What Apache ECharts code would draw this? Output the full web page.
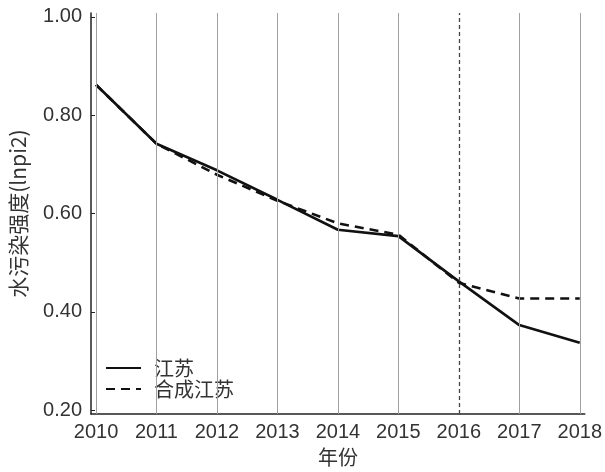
<!DOCTYPE html>
<html>
<head>
<meta charset="utf-8">
<script src="https://cdn.jsdelivr.net/npm/echarts@6/dist/echarts.min.js"></script>
<style>
  html, body { margin: 0; padding: 0; background: #fff; }
  #chart { width: 605px; height: 472px; }
</style>
</head>
<body>
<div id="chart"></div>
<script>
// Years on the horizontal axis
const years = [2010, 2011, 2012, 2013, 2014, 2015, 2016, 2017, 2018];
// Water pollution intensity, Jiangsu (actual)
const jiangsu = [0.862, 0.742, 0.688, 0.628, 0.567, 0.554, 0.462, 0.373, 0.337];
// Water pollution intensity, synthetic Jiangsu
const syntheticJiangsu = [0.862, 0.742, 0.679, 0.626, 0.580, 0.557, 0.459, 0.427, 0.427];
// Y-axis tick labels
const yTicks = [0.2, 0.4, 0.6, 0.8, 1.0];
// Year where the policy starts (dashed reference line)
const policyYear = 2016;

const seriesNames = ['江苏', '合成江苏'];
const fontLatin = '"Liberation Sans", "Noto Sans CJK SC", sans-serif';
const fontCjk = '"Noto Sans CJK SC", "Liberation Sans", sans-serif';
const textColor = '#333';

const chart = echarts.init(document.getElementById('chart'), null, { renderer: 'canvas' });

chart.setOption({
  animation: false,
  backgroundColor: '#fff',
  grid: { left: 91, right: 20, top: 13, bottom: 57 },
  legend: {
    data: seriesNames,
    orient: 'vertical',
    left: 97,
    top: 356,
    itemWidth: 35,
    itemHeight: 18,
    itemGap: 1,
    padding: [2, 6, 2, 8],
    backgroundColor: '#fff',
    itemStyle: { opacity: 0 },
    textStyle: { fontFamily: fontCjk, fontSize: 20, color: textColor, padding: [0, 0, 0, 8] }
  },
  xAxis: {
    type: 'value',
    min: 2009.917,
    max: 2018.083,
    name: '年份',
    nameLocation: 'middle',
    nameGap: 30,
    nameTextStyle: { fontFamily: fontCjk, fontSize: 20, color: textColor },
    axisLine: { show: true, lineStyle: { color: '#222', width: 1.5 } },
    axisTick: { show: true, inside: true, length: 4, customValues: years, lineStyle: { color: '#222' } },
    axisLabel: {
      customValues: years,
      margin: 8,
      fontFamily: fontLatin,
      fontSize: 20,
      color: textColor,
      formatter: v => String(Math.round(v))
    },
    splitLine: { show: false }
  },
  yAxis: {
    type: 'value',
    min: 0.1919,
    max: 1.0081,
    name: '水污染强度(lnpi2)',
    nameLocation: 'middle',
    nameRotate: 90,
    nameGap: 62,
    nameTextStyle: { fontFamily: fontCjk, fontSize: 21, color: textColor },
    axisLine: { show: true, lineStyle: { color: '#222', width: 1.5 } },
    axisTick: { show: true, inside: true, length: 4, customValues: yTicks, lineStyle: { color: '#222' } },
    axisLabel: {
      customValues: yTicks,
      margin: 9,
      fontFamily: fontLatin,
      fontSize: 20,
      color: textColor,
      formatter: v => v.toFixed(2)
    },
    splitLine: { show: false }
  },
  series: [
    {
      // vertical year gridlines
      type: 'line',
      data: [],
      silent: true,
      z: 1,
      markLine: {
        silent: true,
        symbol: 'none',
        label: { show: false },
        lineStyle: { color: '#a0a0a0', width: 1, type: 'solid' },
        data: years.filter(y => y !== policyYear).map(y => ({ xAxis: y }))
      }
    },
    {
      // policy year reference line
      type: 'line',
      data: [],
      silent: true,
      z: 1,
      markLine: {
        silent: true,
        symbol: 'none',
        label: { show: false },
        lineStyle: { color: '#444', width: 1.3, type: [4, 3] },
        data: [{ xAxis: policyYear }]
      }
    },
    {
      name: seriesNames[1],
      type: 'line',
      data: years.map((y, i) => [y, syntheticJiangsu[i]]),
      symbol: 'none',
      z: 3,
      lineStyle: { color: '#111', width: 2.6, type: [9, 6] },
      itemStyle: { color: '#111' }
    },
    {
      name: seriesNames[0],
      type: 'line',
      data: years.map((y, i) => [y, jiangsu[i]]),
      symbol: 'none',
      z: 4,
      lineStyle: { color: '#111', width: 2.6, type: 'solid' },
      itemStyle: { color: '#111' }
    }
  ]
});
</script>
</body>
</html>
